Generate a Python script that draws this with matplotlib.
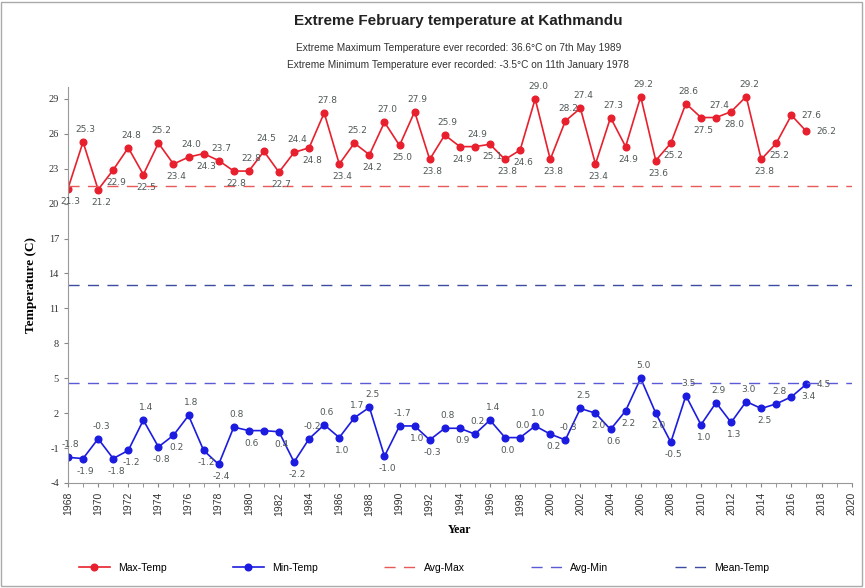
import matplotlib
matplotlib.use('Agg')
import matplotlib.pyplot as plt
from matplotlib.patches import Rectangle
from matplotlib.ticker import MultipleLocator
import numpy as np

plt.rcParams['axes.unicode_minus'] = False

# February extremes at Kathmandu, 1968-2017
years = list(range(1968, 2018))

max_temp = [21.3, 25.3, 21.2, 22.9, 24.8, 22.5, 25.2, 23.4, 24.0, 24.3,
            23.7, 22.8, 22.8, 24.5, 22.7, 24.4, 24.8, 27.8, 23.4, 25.2,
            24.2, 27.0, 25.0, 27.9, 23.8, 25.9, 24.9, 24.9, 25.1, 23.8,
            24.6, 29.0, 23.8, 27.1, 28.2, 23.4, 27.4, 24.9, 29.2, 23.7,
            25.2, 28.6, 27.4, 27.4, 27.9, 29.2, 23.8, 25.2, 27.6, 26.2]
max_labels = ["21.3", "25.3", "21.2", "22.9", "24.8", "22.5", "25.2", "23.4", "24.0", "24.3",
              "23.7", "22.8", "22.8", "24.5", "22.7", "24.4", "24.8", "27.8", "23.4", "25.2",
              "24.2", "27.0", "25.0", "27.9", "23.8", "25.9", "24.9", "24.9", "25.1", "23.8",
              "24.6", "29.0", "23.8", "28.2", "27.4", "23.4", "27.3", "24.9", "29.2", "23.6",
              "25.2", "28.6", "27.5", "27.4", "28.0", "29.2", "23.8", "25.2", "27.6", "26.2"]

min_temp = [-1.8, -1.9, -0.2, -1.9, -1.2, 1.4, -0.9, 0.1, 1.8, -1.2,
            -2.4, 0.8, 0.5, 0.5, 0.4, -2.2, -0.2, 1.0, -0.1, 1.6,
            2.5, -1.7, 0.9, 0.9, -0.3, 0.7, 0.7, 0.2, 1.4, -0.1,
            -0.1, 0.9, 0.2, -0.3, 2.4, 2.0, 0.6, 2.2, 5.0, 2.0,
            -0.5, 3.5, 1.0, 2.9, 1.2, 3.0, 2.4, 2.8, 3.4, 4.5]
min_labels = ["-1.8", "-1.9", "-0.3", "-1.8", "-1.2", "1.4", "-0.8", "0.2", "1.8", "-1.2",
              "-2.4", "0.8", "0.6", "", "0.4", "-2.2", "-0.2", "0.6", "1.0", "1.7",
              "2.5", "-1.0", "-1.7", "1.0", "-0.3", "0.8", "0.9", "0.2", "1.4", "0.0",
              "0.0", "1.0", "0.2", "-0.3", "2.5", "2.0", "0.6", "2.2", "5.0", "2.0",
              "-0.5", "3.5", "1.0", "2.9", "1.3", "3.0", "2.5", "2.8", "3.4", "4.5"]

avg_max = 21.5
avg_min = 4.6
mean_temp = 13.0

title = "Extreme February temperature at Kathmandu"
sub1 = "Extreme Maximum Temperature ever recorded: 36.6\u00b0C on 7th May 1989"
sub2 = "Extreme Minimum Temperature ever recorded: -3.5\u00b0C on 11th January 1978"

RED = '#e8202e'
BLUE = '#1c1ce0'
LBL = '#505858'

fig = plt.figure(figsize=(8.65, 5.88), dpi=100)
fig.patch.set_facecolor('white')
ax = fig.add_axes([0.0786, 0.1786, 0.906, 0.673])

ax.plot(years, max_temp, color=RED, marker='o', ms=4.8, lw=1.2, label='Max-Temp')
ax.plot(years, min_temp, color=BLUE, marker='o', ms=4.8, lw=1.2, label='Min-Temp')
ax.axhline(avg_max, color='#e85a5a', lw=1.0, ls=(0, (8, 6)), label='Avg-Max')
ax.axhline(avg_min, color='#5a5ad8', lw=1.0, ls=(0, (8, 6)), label='Avg-Min')
ax.axhline(mean_temp, color='#3c4ca0', lw=1.0, ls=(0, (8, 6)), label='Mean-Temp')


def put_labels(vals, texts):
    n = len(vals)
    # above for local highs, below for lows; flip when two neighbours would clash
    ups = []
    for i in range(n):
        nb = [vals[j] for j in (i - 1, i + 1) if 0 <= j < n]
        ups.append(vals[i] >= np.mean(nb))
    for i in range(1, n):
        if ups[i] == ups[i - 1] and abs(vals[i] - vals[i - 1]) < 0.6:
            ups[i] = not ups[i - 1]
    for i in range(n):
        if not texts[i]:
            continue
        if i >= n - 2:
            ax.annotate(texts[i], (years[i], vals[i]), xytext=(7, 0),
                        textcoords='offset points', ha='left', va='center',
                        fontsize=6.5, color=LBL)
            continue
        ax.annotate(texts[i], (years[i], vals[i]), xytext=(2, 9 if ups[i] else -9),
                    textcoords='offset points', ha='center',
                    va='center', fontsize=6.5, color=LBL)


put_labels(max_temp, max_labels)
put_labels(min_temp, min_labels)

ax.set_xlim(1968, 2020)
ax.set_ylim(-4, 30)
ax.set_yticks(np.arange(-4, 30, 3))
ax.xaxis.set_major_locator(MultipleLocator(2))
ax.xaxis.set_minor_locator(MultipleLocator(1))
ax.tick_params(axis='x', which='both', direction='out', length=3, color='#888888',
               labelrotation=90, labelsize=7.5, labelcolor='#333333')
ax.tick_params(axis='y', direction='out', length=3, color='#888888',
               labelsize=7.5, labelcolor='#333333')
for t in ax.get_yticklabels():
    t.set_fontfamily('Liberation Serif')
for t in ax.get_xticklabels():
    t.set_fontfamily('Liberation Sans')
for s in ('top', 'right'):
    ax.spines[s].set_visible(False)
for s in ('left', 'bottom'):
    ax.spines[s].set_color('#999999')

ax.set_ylabel('Temperature (C)', fontfamily='Liberation Serif', fontweight='bold',
              fontsize=9.5, labelpad=8)
ax.set_xlabel('Year', fontfamily='Liberation Serif', fontweight='bold', fontsize=8.5,
              labelpad=6)

fig.text(0.53, 0.964, title, ha='center', va='center', fontsize=11,
         fontweight='bold', fontfamily='Liberation Sans', color='#222222')
fig.text(0.53, 0.919, sub1, ha='center', va='center', fontsize=7.3,
         fontfamily='Liberation Sans', color='#333333')
fig.text(0.53, 0.890, sub2, ha='center', va='center', fontsize=7.3,
         fontfamily='Liberation Sans', color='#333333')

leg = fig.legend(loc='lower left', bbox_to_anchor=(0.08, 0.01, 0.82, 0.05),
                 mode='expand', ncol=5, frameon=False,
                 handlelength=3, prop={'family': 'Liberation Sans', 'size': 7.5})

fig.patches.append(Rectangle((0.001, 0.004), 0.996, 0.992, transform=fig.transFigure,
                             fill=False, edgecolor='#aaaaaa', lw=1.0))

fig.savefig('out.png', dpi=100)
